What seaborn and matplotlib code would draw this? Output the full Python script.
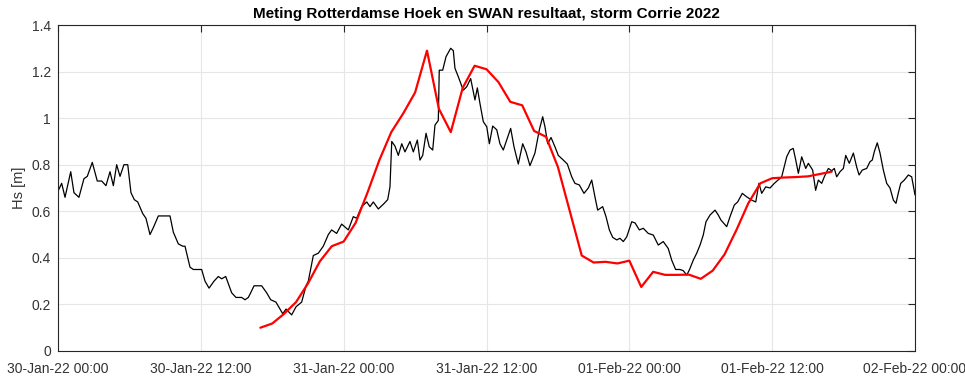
import numpy as np
import pandas as pd
import matplotlib
matplotlib.use("Agg")
import matplotlib.pyplot as plt
import matplotlib.dates as mdates
from matplotlib.ticker import FuncFormatter
import seaborn as sns

# Measured significant wave height, Rotterdamse Hoek (hours since 30-Jan-2022 00:00)
meas_hours = [
    0.03, 0.31, 0.59, 1.07, 1.34, 1.76, 2.18, 2.46, 2.88, 3.30, 3.67, 4.03, 4.37, 4.65,
    4.93, 5.21, 5.54, 5.86, 6.13, 6.41, 6.70, 7.12, 7.39, 7.73, 8.01, 8.43, 8.99, 9.41,
    9.69, 10.11, 10.48, 10.67, 11.09, 11.37, 12.07, 12.35, 12.69, 13.11, 13.47, 13.75,
    14.09, 14.59, 14.95, 15.43, 15.71, 15.99, 16.19, 16.47, 17.11, 17.53, 17.87, 18.31,
    18.88, 19.16, 19.63, 20.00, 20.47, 20.84, 21.03, 21.45, 21.87, 22.29, 22.71, 22.99,
    23.41, 23.83, 24.39, 24.81, 25.09, 25.51, 25.94, 26.21, 26.49, 26.91, 27.33, 27.70,
    27.89, 28.04, 28.31, 28.59, 28.88, 29.15, 29.57, 29.85, 30.19, 30.41, 30.64, 30.92,
    31.19, 31.48, 31.67, 31.95, 32.03, 32.32, 32.60, 32.99, 33.21, 33.35, 33.63, 34.05,
    34.34, 34.67, 34.89, 35.03, 35.23, 35.45, 35.73, 36.02, 36.24, 36.52, 36.86, 37.13,
    37.41, 37.70, 38.03, 38.31, 38.67, 39.04, 39.32, 39.65, 40.07, 40.44, 40.72, 40.91,
    41.14, 41.42, 41.75, 42.03, 42.45, 42.79, 43.16, 43.43, 43.80, 44.19, 44.55, 44.84,
    45.11, 45.34, 45.76, 46.04, 46.32, 46.60, 46.94, 47.21, 47.49, 47.78, 48.20, 48.48,
    48.84, 49.17, 49.59, 50.01, 50.43, 50.85, 51.27, 51.56, 51.89, 52.26, 52.53, 52.82,
    53.04, 53.37, 53.66, 53.94, 54.21, 54.44, 54.78, 55.20, 55.47, 55.70, 56.18, 56.46,
    56.82, 57.10, 57.49, 57.86, 58.28, 58.62, 58.89, 59.12, 59.46, 59.82, 60.18, 60.80,
    61.22, 61.50, 61.77, 61.98, 62.20, 62.48, 62.82, 63.04, 63.40, 63.65, 63.88, 64.16,
    64.38, 64.72, 65.00, 65.22, 65.42, 65.70, 65.98, 66.18, 66.48, 66.82, 67.10, 67.30,
    67.57, 67.94, 68.22, 68.41, 68.58, 68.83, 69.06, 69.34, 69.62, 69.90, 70.18, 70.40,
    70.59, 70.80, 71.10, 71.44, 71.72, 72.00,
]
meas_hs = [
    0.69, 0.72, 0.66, 0.77, 0.68, 0.66, 0.74, 0.75, 0.81, 0.73, 0.73, 0.71, 0.77, 0.71,
    0.80, 0.75, 0.80, 0.80, 0.68, 0.65, 0.64, 0.59, 0.57, 0.50, 0.53, 0.58, 0.58, 0.58,
    0.51, 0.46, 0.45, 0.45, 0.36, 0.35, 0.35, 0.30, 0.27, 0.30, 0.32, 0.31,
    0.32, 0.25, 0.23, 0.23, 0.22, 0.23, 0.25, 0.28, 0.28, 0.25, 0.22, 0.21,
    0.16, 0.18, 0.155, 0.19, 0.21, 0.28, 0.30, 0.41, 0.42, 0.45, 0.50, 0.52,
    0.505, 0.545, 0.52, 0.577, 0.57, 0.62, 0.64, 0.62, 0.64, 0.61, 0.63, 0.65,
    0.705, 0.90, 0.88, 0.84, 0.89, 0.855, 0.90, 0.855, 0.906, 0.82, 0.84, 0.935,
    0.877, 0.863, 0.97, 0.99, 1.206, 1.206, 1.264, 1.30, 1.29, 1.214, 1.178, 1.12,
    1.135, 1.17, 1.113, 1.078, 1.13, 1.063, 0.985, 0.963, 0.89, 0.966, 0.95, 0.89,
    0.863, 0.906, 0.956, 0.877, 0.803, 0.89, 0.855, 0.796, 0.85, 0.95, 1.006, 0.963,
    0.89, 0.917, 0.877, 0.84, 0.82, 0.803, 0.748, 0.72, 0.713, 0.677, 0.70, 0.734,
    0.662, 0.605, 0.62, 0.577, 0.52, 0.488, 0.477, 0.484, 0.47, 0.49, 0.555, 0.55,
    0.52, 0.527, 0.505, 0.498, 0.455, 0.47, 0.44, 0.39, 0.35, 0.35, 0.345, 0.326,
    0.348, 0.39, 0.42, 0.455, 0.498, 0.555, 0.584, 0.605, 0.584, 0.562, 0.534, 0.577,
    0.627, 0.64, 0.677, 0.662, 0.648, 0.64, 0.72, 0.677, 0.705, 0.70, 0.72, 0.748,
    0.834, 0.863, 0.87, 0.82, 0.763, 0.834, 0.784, 0.806, 0.777, 0.69, 0.734, 0.72,
    0.748, 0.784, 0.774, 0.784, 0.748, 0.77, 0.784, 0.84, 0.806, 0.85, 0.79, 0.756,
    0.777, 0.784, 0.813, 0.82, 0.856, 0.894, 0.85, 0.777, 0.72, 0.70, 0.648, 0.634,
    0.677, 0.72, 0.734, 0.756, 0.748, 0.67,
]

# SWAN model output, hourly
swan_hours = list(range(17, 66))
swan_hs = [
    0.10, 0.118, 0.16, 0.21, 0.29, 0.385, 0.45, 0.47, 0.55, 0.68,
    0.82, 0.94, 1.02, 1.11, 1.29, 1.04, 0.94, 1.13, 1.225, 1.21,
    1.155, 1.07, 1.055, 0.945, 0.92, 0.79, 0.60, 0.41, 0.38, 0.383,
    0.376, 0.388, 0.275, 0.34, 0.327, 0.327, 0.328, 0.31, 0.345, 0.415,
    0.52, 0.635, 0.72, 0.742, 0.745, 0.747, 0.75, 0.76, 0.77,
]

t0 = pd.Timestamp("2022-01-30 00:00")
meas = pd.DataFrame({"time": t0 + pd.to_timedelta(meas_hours, unit="h"), "Hs": meas_hs})
swan = pd.DataFrame({"time": t0 + pd.to_timedelta(swan_hours, unit="h"), "Hs": swan_hs})

sns.set_theme(style="white")
plt.rcParams["font.family"] = ["Liberation Sans", "DejaVu Sans"]

fig = plt.figure(figsize=(9.65, 3.76), dpi=100)
ax = fig.add_axes([0.0601, 0.0665, 0.8881, 0.867])

axis_col = "#262626"
label_col = "#333333"
sns.lineplot(data=meas, x="time", y="Hs", ax=ax, color="black", linewidth=0.9,
             estimator=None, sort=False)
sns.lineplot(data=swan, x="time", y="Hs", ax=ax, color="#ff0000", linewidth=1.6,
             estimator=None, sort=False)

ax.set_xlim(t0, t0 + pd.Timedelta(hours=72))
ax.set_ylim(0, 1.4)
ax.set_yticks(np.arange(0, 1.41, 0.2))
ax.yaxis.set_major_formatter(FuncFormatter(lambda v, p: f"{v:g}"))
ax.xaxis.set_major_locator(mdates.HourLocator(byhour=[0, 12]))
ax.xaxis.set_major_formatter(mdates.DateFormatter("%d-%b-%y %H:%M"))

ax.grid(True, color="#e6e6e6", linewidth=0.8)
ax.set_axisbelow(True)
for s in ax.spines.values():
    s.set_visible(True)
    s.set_color(axis_col)
    s.set_linewidth(0.8)
ax.tick_params(axis="both", which="major", direction="in", length=5, width=0.8,
               colors=axis_col, labelsize=10, top=True, right=True)
ax.tick_params(axis="both", labelcolor=label_col)
ax.tick_params(axis="x", pad=8)
ax.tick_params(axis="y", pad=5)

ax.set_xlabel("")
ax.set_ylabel("Hs [m]", fontsize=10.5, color=label_col, labelpad=4)
ax.set_title("Meting Rotterdamse Hoek en SWAN resultaat, storm Corrie 2022",
             fontsize=11, fontweight="bold", color="black", pad=5)

fig.savefig("out.png", dpi=100, facecolor="white")
